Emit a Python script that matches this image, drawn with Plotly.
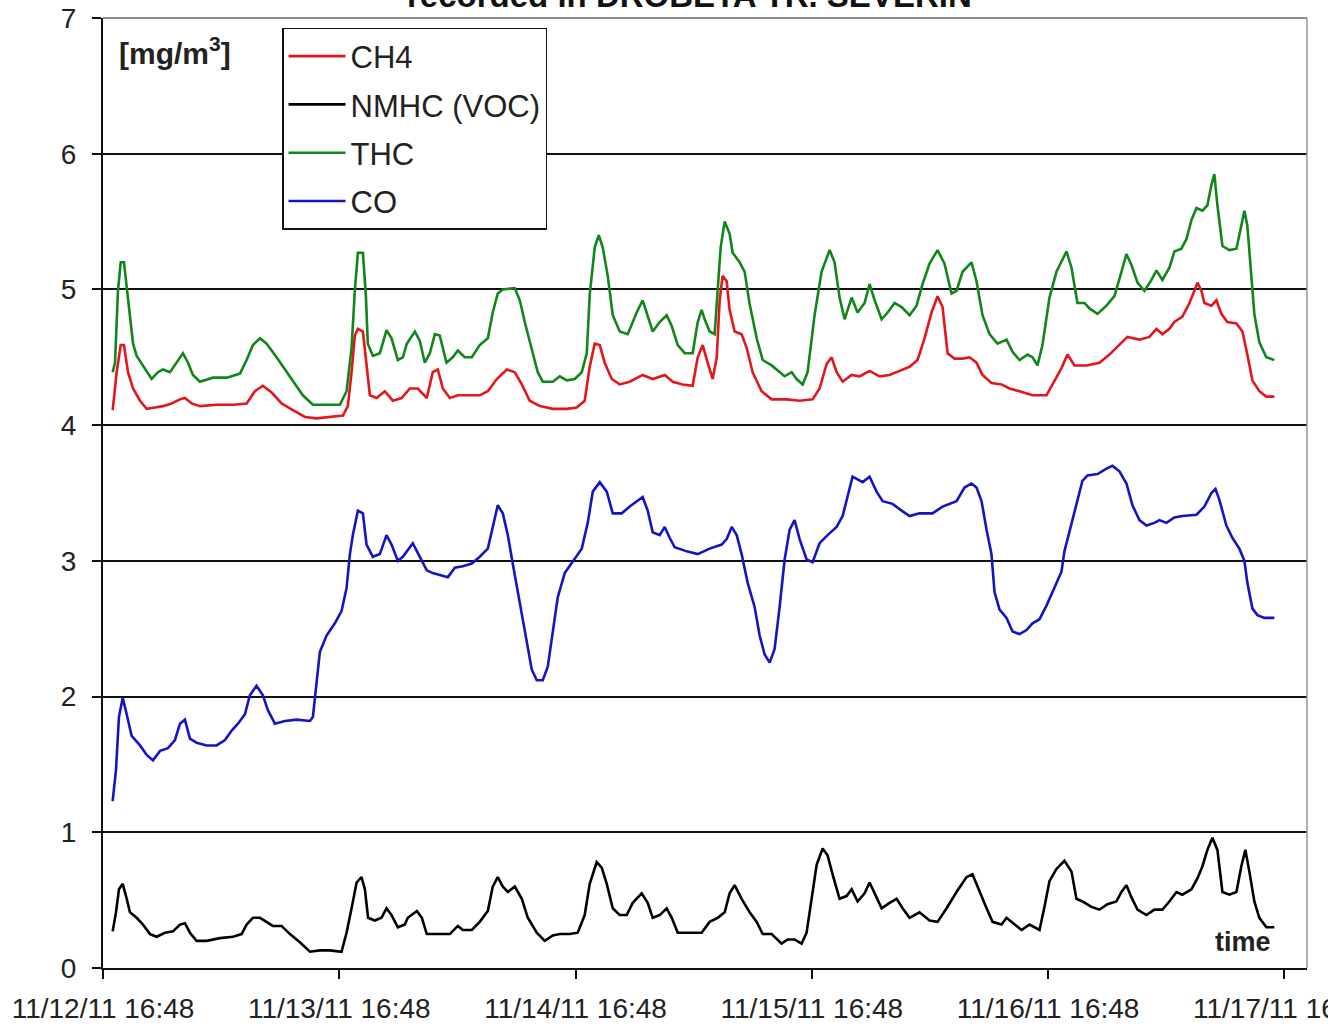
import pandas as pd
import plotly.graph_objects as go

START = pd.Timestamp("2011-11-12 16:48")

# hours after 11/12/11 16:48 and values [mg/m3]
thc_h = [0.98, 1.22, 1.52, 1.80, 2.13, 2.41, 2.74, 3.05, 3.42, 4.06, 4.94, 5.58, 6.09, 6.80, 7.48, 8.12, 8.63, 9.14, 9.85, 11.17, 12.59, 13.91, 14.59, 15.23, 15.94, 16.62, 17.63, 18.99, 20.30, 21.32, 22.71, 24.06, 24.74, 25.25, 25.58, 25.89, 26.40, 26.70, 26.90, 27.41, 28.12, 28.80, 29.31, 29.95, 30.46, 30.86, 31.68, 32.18, 32.69, 33.20, 33.71, 34.21, 34.89, 35.53, 36.04, 36.75, 37.46, 38.27, 39.09, 39.59, 40.10, 40.61, 41.83, 42.34, 42.84, 43.52, 44.16, 44.67, 45.69, 46.40, 47.11, 47.92, 48.63, 49.14, 49.44, 49.95, 50.36, 50.76, 51.27, 51.78, 52.49, 53.30, 54.21, 54.82, 55.33, 55.84, 56.55, 57.26, 57.77, 58.38, 59.09, 59.90, 60.41, 60.81, 61.12, 61.62, 62.13, 62.44, 62.74, 63.15, 63.65, 63.96, 64.67, 65.18, 65.69, 66.40, 67.01, 67.92, 68.73, 69.24, 69.95, 70.46, 71.07, 71.57, 72.28, 72.99, 73.81, 74.31, 74.82, 75.33, 76.04, 76.65, 77.36, 77.87, 78.38, 79.09, 79.70, 80.41, 81.12, 81.93, 82.64, 83.25, 83.96, 84.77, 85.48, 86.19, 86.70, 87.31, 88.22, 88.73, 89.34, 90.05, 90.86, 91.78, 92.39, 93.10, 93.91, 94.42, 94.92, 95.43, 96.14, 96.85, 97.87, 98.38, 98.98, 99.70, 100.20, 101.02, 101.93, 102.74, 103.45, 103.96, 104.47, 105.08, 105.79, 106.50, 107.01, 107.61, 108.32, 108.83, 109.54, 110.05, 110.56, 111.07, 111.68, 112.18, 112.59, 112.89, 113.20, 113.71, 114.42, 115.13, 115.63, 115.94, 116.24, 116.65, 116.95, 117.46, 118.17, 118.98]
thc_v = [4.39, 4.46, 4.99, 5.20, 5.20, 5.03, 4.81, 4.60, 4.51, 4.44, 4.34, 4.39, 4.41, 4.39, 4.46, 4.53, 4.46, 4.37, 4.32, 4.35, 4.35, 4.38, 4.48, 4.59, 4.64, 4.60, 4.50, 4.36, 4.22, 4.15, 4.15, 4.15, 4.25, 4.57, 4.99, 5.27, 5.27, 4.96, 4.60, 4.51, 4.53, 4.70, 4.64, 4.48, 4.50, 4.60, 4.69, 4.62, 4.46, 4.53, 4.67, 4.66, 4.46, 4.50, 4.55, 4.50, 4.50, 4.59, 4.64, 4.83, 4.97, 5.00, 5.01, 4.92, 4.76, 4.57, 4.39, 4.32, 4.32, 4.36, 4.33, 4.34, 4.39, 4.53, 4.96, 5.31, 5.40, 5.31, 5.10, 4.81, 4.69, 4.67, 4.83, 4.92, 4.81, 4.69, 4.76, 4.81, 4.73, 4.59, 4.53, 4.53, 4.76, 4.85, 4.78, 4.69, 4.67, 4.96, 5.31, 5.50, 5.41, 5.27, 5.20, 5.13, 4.89, 4.64, 4.48, 4.44, 4.39, 4.36, 4.39, 4.34, 4.30, 4.39, 4.81, 5.13, 5.29, 5.20, 4.94, 4.78, 4.94, 4.83, 4.90, 5.04, 4.92, 4.78, 4.83, 4.90, 4.87, 4.81, 4.88, 5.04, 5.19, 5.29, 5.19, 4.97, 4.99, 5.13, 5.20, 5.06, 4.81, 4.67, 4.60, 4.63, 4.54, 4.48, 4.52, 4.50, 4.44, 4.59, 4.94, 5.13, 5.28, 5.16, 4.90, 4.90, 4.86, 4.82, 4.88, 4.95, 5.13, 5.26, 5.18, 5.05, 4.99, 5.07, 5.14, 5.07, 5.16, 5.28, 5.30, 5.37, 5.51, 5.60, 5.58, 5.62, 5.77, 5.85, 5.62, 5.32, 5.29, 5.30, 5.47, 5.58, 5.47, 5.13, 4.82, 4.61, 4.50, 4.48]

ch4_h = [0.98, 1.39, 1.80, 2.13, 2.54, 3.05, 3.76, 4.44, 5.28, 6.09, 6.97, 7.82, 8.32, 9.01, 9.85, 11.54, 13.20, 14.59, 15.43, 16.24, 17.13, 18.14, 19.29, 20.51, 21.70, 23.05, 24.37, 24.87, 25.25, 25.58, 25.89, 26.40, 26.77, 27.11, 27.79, 28.63, 29.44, 30.33, 31.17, 31.98, 32.89, 33.50, 34.01, 34.52, 35.23, 36.04, 36.95, 38.27, 39.09, 40.00, 41.02, 41.83, 42.54, 43.35, 44.37, 45.69, 47.11, 48.12, 48.93, 49.44, 49.95, 50.46, 50.96, 51.68, 52.49, 53.50, 54.82, 55.84, 57.06, 57.87, 58.88, 59.90, 60.41, 60.91, 61.42, 61.93, 62.34, 62.64, 62.94, 63.35, 63.65, 64.16, 64.87, 65.38, 65.99, 66.90, 67.92, 69.44, 70.76, 72.08, 72.79, 73.50, 74.01, 74.52, 75.13, 76.04, 76.85, 77.87, 78.88, 79.90, 80.91, 81.93, 82.74, 83.45, 84.16, 84.77, 85.28, 85.79, 86.50, 87.31, 88.02, 88.73, 89.34, 90.25, 91.27, 92.08, 93.10, 94.42, 95.84, 96.65, 97.36, 97.97, 98.68, 99.90, 101.22, 102.23, 103.25, 104.06, 105.28, 106.29, 107.01, 107.61, 108.32, 108.83, 109.64, 110.36, 110.86, 111.17, 111.57, 111.88, 112.59, 113.10, 113.60, 114.21, 115.13, 115.74, 116.24, 116.75, 117.46, 118.17, 118.98]
ch4_v = [4.11, 4.39, 4.59, 4.59, 4.39, 4.27, 4.18, 4.12, 4.13, 4.14, 4.16, 4.19, 4.20, 4.16, 4.14, 4.15, 4.15, 4.16, 4.25, 4.29, 4.24, 4.16, 4.11, 4.06, 4.05, 4.06, 4.07, 4.14, 4.39, 4.66, 4.71, 4.69, 4.46, 4.22, 4.20, 4.25, 4.18, 4.20, 4.27, 4.27, 4.20, 4.39, 4.41, 4.27, 4.20, 4.22, 4.22, 4.22, 4.25, 4.34, 4.41, 4.39, 4.30, 4.18, 4.14, 4.12, 4.12, 4.13, 4.18, 4.43, 4.60, 4.59, 4.46, 4.34, 4.30, 4.32, 4.37, 4.34, 4.37, 4.32, 4.30, 4.29, 4.50, 4.59, 4.46, 4.34, 4.50, 4.92, 5.10, 5.06, 4.85, 4.69, 4.67, 4.57, 4.39, 4.25, 4.19, 4.19, 4.18, 4.19, 4.27, 4.45, 4.50, 4.39, 4.32, 4.37, 4.36, 4.40, 4.36, 4.37, 4.40, 4.43, 4.48, 4.64, 4.83, 4.95, 4.87, 4.53, 4.49, 4.49, 4.50, 4.46, 4.37, 4.31, 4.30, 4.27, 4.25, 4.22, 4.22, 4.33, 4.42, 4.52, 4.44, 4.44, 4.46, 4.52, 4.59, 4.65, 4.63, 4.65, 4.71, 4.67, 4.71, 4.76, 4.80, 4.90, 4.99, 5.05, 4.99, 4.90, 4.88, 4.92, 4.82, 4.76, 4.75, 4.69, 4.52, 4.33, 4.25, 4.21, 4.21]

co_h = [0.98, 1.32, 1.62, 2.00, 2.34, 2.91, 3.76, 4.44, 5.08, 5.79, 6.60, 7.31, 7.82, 8.32, 8.83, 9.51, 10.53, 11.54, 12.39, 13.07, 13.71, 14.42, 14.92, 15.60, 16.24, 16.75, 17.46, 18.48, 19.67, 21.02, 21.32, 21.70, 22.03, 22.71, 23.55, 24.23, 24.74, 25.08, 25.38, 25.89, 26.40, 26.77, 27.41, 28.12, 28.80, 29.31, 29.95, 30.46, 31.47, 32.18, 32.89, 33.50, 34.42, 35.03, 35.74, 36.55, 37.46, 38.27, 39.09, 39.59, 40.10, 40.61, 41.12, 41.62, 42.34, 43.05, 43.55, 44.06, 44.67, 45.18, 45.69, 46.19, 46.90, 47.72, 48.63, 49.24, 49.75, 50.46, 51.17, 51.78, 52.69, 53.50, 54.21, 54.82, 55.33, 55.84, 56.55, 57.06, 57.56, 58.07, 59.29, 60.41, 61.62, 62.84, 63.35, 63.86, 64.37, 64.87, 65.48, 66.19, 66.70, 67.21, 67.72, 68.22, 68.73, 69.24, 69.75, 70.25, 70.76, 71.47, 72.08, 72.79, 73.60, 74.52, 75.13, 75.63, 76.14, 76.65, 77.16, 77.87, 78.58, 79.19, 80.20, 81.12, 81.93, 82.94, 84.26, 85.28, 86.70, 87.51, 88.22, 88.73, 89.24, 89.75, 90.25, 90.56, 91.07, 91.78, 92.39, 93.10, 93.81, 94.42, 95.13, 95.84, 96.65, 97.36, 97.66, 98.17, 98.88, 99.49, 100.00, 101.02, 101.93, 102.54, 103.25, 103.96, 104.57, 105.28, 105.99, 106.80, 107.31, 108.02, 108.83, 109.64, 111.07, 111.88, 112.59, 113.00, 113.40, 114.11, 114.72, 115.43, 115.94, 116.24, 116.75, 117.26, 117.97, 118.98]
co_v = [1.23, 1.46, 1.85, 1.99, 1.89, 1.71, 1.64, 1.57, 1.53, 1.60, 1.62, 1.68, 1.80, 1.83, 1.69, 1.66, 1.64, 1.64, 1.68, 1.75, 1.80, 1.87, 2.01, 2.08, 2.01, 1.90, 1.80, 1.82, 1.83, 1.82, 1.85, 2.13, 2.33, 2.45, 2.54, 2.63, 2.80, 3.05, 3.19, 3.37, 3.35, 3.12, 3.03, 3.05, 3.19, 3.12, 3.00, 3.03, 3.13, 3.03, 2.93, 2.91, 2.89, 2.88, 2.95, 2.96, 2.98, 3.03, 3.09, 3.26, 3.41, 3.35, 3.19, 2.98, 2.70, 2.42, 2.20, 2.12, 2.12, 2.22, 2.49, 2.73, 2.91, 3.00, 3.09, 3.28, 3.51, 3.58, 3.51, 3.35, 3.35, 3.40, 3.44, 3.47, 3.37, 3.21, 3.19, 3.25, 3.17, 3.10, 3.07, 3.05, 3.09, 3.12, 3.16, 3.25, 3.19, 3.05, 2.84, 2.66, 2.45, 2.31, 2.25, 2.35, 2.66, 3.01, 3.23, 3.30, 3.16, 3.01, 2.99, 3.13, 3.19, 3.25, 3.33, 3.47, 3.62, 3.60, 3.58, 3.62, 3.51, 3.44, 3.42, 3.37, 3.33, 3.35, 3.35, 3.40, 3.44, 3.54, 3.57, 3.54, 3.44, 3.23, 3.05, 2.77, 2.64, 2.58, 2.48, 2.46, 2.49, 2.54, 2.57, 2.67, 2.81, 2.92, 3.07, 3.22, 3.41, 3.59, 3.63, 3.64, 3.68, 3.70, 3.66, 3.57, 3.41, 3.30, 3.26, 3.28, 3.30, 3.28, 3.32, 3.33, 3.34, 3.40, 3.50, 3.53, 3.45, 3.26, 3.17, 3.09, 3.00, 2.84, 2.65, 2.60, 2.58, 2.58]

nmhc_h = [0.98, 1.32, 1.62, 2.00, 2.34, 2.74, 3.42, 4.06, 4.77, 5.45, 6.29, 7.11, 7.82, 8.32, 8.83, 9.51, 10.53, 11.88, 13.20, 14.08, 14.59, 15.23, 15.94, 16.62, 17.26, 18.14, 18.99, 20.00, 21.02, 22.03, 23.05, 24.23, 24.74, 25.25, 25.76, 26.26, 26.60, 26.93, 27.61, 28.29, 28.80, 29.31, 29.95, 30.66, 30.96, 31.88, 32.39, 32.89, 33.91, 35.23, 36.04, 36.55, 37.46, 38.27, 39.09, 39.59, 40.10, 40.61, 41.12, 41.83, 42.54, 43.15, 44.06, 44.87, 45.69, 46.40, 47.41, 48.22, 48.93, 49.44, 50.15, 50.66, 51.17, 51.78, 52.49, 53.20, 53.81, 54.72, 55.33, 55.84, 56.55, 57.26, 57.77, 58.38, 59.59, 60.81, 61.62, 62.44, 63.15, 63.65, 64.16, 64.87, 65.69, 66.40, 67.01, 67.92, 68.93, 69.54, 70.25, 70.96, 71.47, 71.98, 72.49, 73.10, 73.60, 74.11, 74.82, 75.53, 76.04, 76.65, 77.36, 77.87, 78.38, 79.09, 79.90, 80.61, 81.22, 81.93, 82.94, 83.96, 84.77, 85.69, 86.70, 87.72, 88.32, 89.04, 89.75, 90.36, 91.27, 91.78, 92.59, 93.30, 94.11, 94.62, 95.13, 95.63, 96.14, 96.85, 97.66, 98.38, 98.88, 99.49, 100.41, 101.22, 102.03, 102.94, 103.45, 103.96, 104.47, 105.08, 105.99, 106.80, 107.61, 108.32, 109.04, 109.64, 110.56, 111.17, 111.68, 112.18, 112.69, 113.20, 113.71, 114.42, 115.13, 115.63, 116.04, 116.45, 116.95, 117.46, 118.17, 118.98]
nmhc_v = [0.27, 0.41, 0.58, 0.62, 0.53, 0.41, 0.37, 0.32, 0.25, 0.23, 0.26, 0.27, 0.32, 0.33, 0.26, 0.20, 0.20, 0.22, 0.23, 0.25, 0.32, 0.37, 0.37, 0.34, 0.31, 0.31, 0.25, 0.19, 0.12, 0.13, 0.13, 0.12, 0.26, 0.44, 0.63, 0.67, 0.58, 0.37, 0.35, 0.37, 0.44, 0.39, 0.30, 0.32, 0.37, 0.42, 0.37, 0.25, 0.25, 0.25, 0.31, 0.28, 0.28, 0.34, 0.42, 0.60, 0.67, 0.60, 0.56, 0.60, 0.51, 0.37, 0.26, 0.20, 0.24, 0.25, 0.25, 0.26, 0.39, 0.62, 0.78, 0.74, 0.62, 0.44, 0.39, 0.39, 0.48, 0.55, 0.48, 0.37, 0.39, 0.44, 0.37, 0.26, 0.26, 0.26, 0.34, 0.37, 0.41, 0.55, 0.61, 0.51, 0.41, 0.34, 0.25, 0.25, 0.18, 0.21, 0.21, 0.18, 0.26, 0.51, 0.76, 0.88, 0.83, 0.69, 0.51, 0.53, 0.58, 0.49, 0.55, 0.63, 0.55, 0.44, 0.48, 0.51, 0.44, 0.37, 0.41, 0.35, 0.34, 0.44, 0.56, 0.67, 0.69, 0.56, 0.44, 0.34, 0.32, 0.37, 0.32, 0.28, 0.32, 0.30, 0.28, 0.45, 0.64, 0.73, 0.79, 0.71, 0.51, 0.49, 0.45, 0.43, 0.47, 0.49, 0.56, 0.61, 0.52, 0.43, 0.39, 0.43, 0.43, 0.49, 0.56, 0.54, 0.58, 0.66, 0.75, 0.87, 0.96, 0.87, 0.56, 0.54, 0.56, 0.75, 0.87, 0.71, 0.49, 0.37, 0.30, 0.30]

series = [
    ("CH4", ch4_h, ch4_v, "#E3161B"),
    ("NMHC (VOC)", nmhc_h, nmhc_v, "#000000"),
    ("THC", thc_h, thc_v, "#11861A"),
    ("CO", co_h, co_v, "#1414C4"),
]

tick_days = [0, 1, 2, 3, 4, 5]
x_end_hours = 122.3
FONT = "Arial, Liberation Sans, sans-serif"


def to_time(hours):
    return [START + pd.Timedelta(hours=h) for h in hours]


fig = go.Figure()
for i, (name, hh, vv, col) in enumerate(series):
    fig.add_trace(go.Scatter(
        x=to_time(hh), y=vv, mode="lines", name=name,
        legendgroup=f"g{i}",
        line=dict(color=col, width=2.6),
    ))

tickvals = [START + pd.Timedelta(days=d) for d in tick_days]
ticktext = [t.strftime("%m/%d/%y %H:%M") for t in tickvals]

fig.update_layout(
    width=1328, height=1027,
    margin=dict(l=103, r=21, t=18, b=59, autoexpand=False),
    paper_bgcolor="white", plot_bgcolor="white",
    font=dict(family=FONT, color="#111111"),
    showlegend=True,
    legend=dict(
        x=0.1487, y=0.9895, xanchor="left", yanchor="top",
        bordercolor="#111111", borderwidth=1.5, bgcolor="white",
        font=dict(size=31, family=FONT, color="#222222"),
        traceorder="grouped", tracegroupgap=5,
        itemwidth=57,
    ),
    xaxis=dict(
        type="date", automargin=False,
        range=[START, START + pd.Timedelta(hours=x_end_hours)],
        tickvals=tickvals, ticktext=ticktext,
        ticks="outside", ticklen=9, tickwidth=1.5, tickcolor="#111111",
        showline=True, linecolor="#111111", linewidth=2,
        showgrid=False, zeroline=False,
        tickfont=dict(size=28, family=FONT, color="#222222"),
        ticklabelstandoff=5, ticklabeloverflow="allow",
    ),
    yaxis=dict(
        automargin=False,
        range=[0, 7], tickvals=[0, 1, 2, 3, 4, 5, 6, 7],
        ticks="outside", ticklen=9, tickwidth=1.5, tickcolor="#111111",
        showline=True, linecolor="#111111", linewidth=2,
        showgrid=True, gridcolor="#111111", gridwidth=1.5,
        zeroline=False,
        tickfont=dict(size=28, family=FONT, color="#222222"),
        ticklabelstandoff=10,
    ),
)

# plot-area frame (top and right edges are grey in the original)
fig.add_shape(type="line", xref="paper", yref="paper", x0=0, x1=1, y0=1, y1=1,
              line=dict(color="#666666", width=1.5), layer="above")
fig.add_shape(type="line", xref="paper", yref="paper", x0=1, x1=1, y0=0, y1=1,
              line=dict(color="#999999", width=1.5), layer="above")

fig.add_annotation(xref="paper", yref="paper", x=0.0115, y=0.965,
                   xanchor="left", yanchor="middle", showarrow=False,
                   text="<b>[mg/m<sup>3</sup>]</b>",
                   font=dict(size=30, family=FONT, color="#222222"))
fig.add_annotation(xref="paper", yref="paper", x=0.9715, y=0.0275,
                   xanchor="right", yanchor="middle", showarrow=False,
                   text="<b>time</b>",
                   font=dict(size=27, family=FONT, color="#222222"))
fig.add_annotation(xref="paper", yref="paper", x=0.4875, y=1.002,
                   xanchor="center", yanchor="bottom", showarrow=False,
                   text="<b>recorded in DROBETA TR. SEVERIN</b>",
                   font=dict(size=33, family=FONT, color="#111111"))

fig.write_html(
    "out.html",
    config={"displayModeBar": False},
    post_script="document.body.style.margin='0';document.body.style.overflow='hidden';",
)
